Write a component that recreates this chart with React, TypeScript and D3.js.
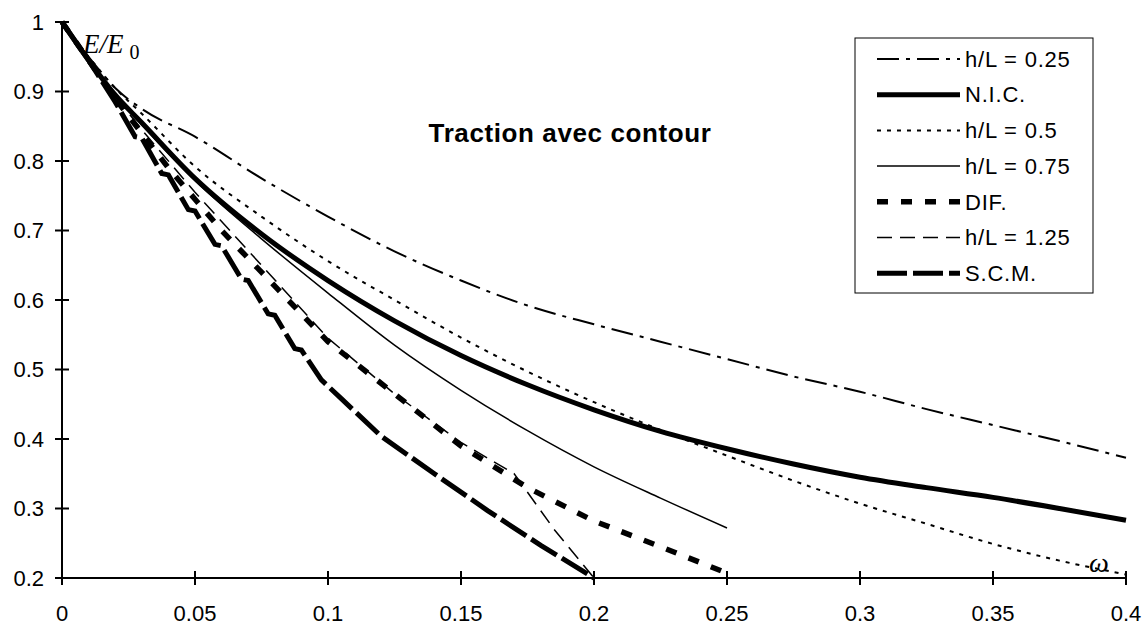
import * as d3 from "d3";

// Courbes E/E0 en fonction de omega — traction avec contour
const xTicks = [0, 0.05, 0.1, 0.15, 0.2, 0.25, 0.3, 0.35, 0.4];
const yTicks = [0.2, 0.3, 0.4, 0.5, 0.6, 0.7, 0.8, 0.9, 1];

const hl025X = [0, 0.01, 0.02, 0.03, 0.05, 0.075, 0.1, 0.125, 0.15, 0.175, 0.2, 0.225, 0.25, 0.275, 0.3, 0.325, 0.35, 0.375, 0.4];
const hl025Y = [1, 0.95, 0.905, 0.875, 0.835, 0.775, 0.72, 0.67, 0.628, 0.592, 0.565, 0.54, 0.515, 0.49, 0.468, 0.443, 0.42, 0.397, 0.373];

const nicX = [0, 0.01, 0.02, 0.03, 0.05, 0.075, 0.1, 0.125, 0.15, 0.175, 0.2, 0.225, 0.25, 0.275, 0.3, 0.325, 0.35, 0.375, 0.4];
const nicY = [1, 0.945, 0.895, 0.855, 0.775, 0.695, 0.628, 0.57, 0.52, 0.478, 0.442, 0.411, 0.386, 0.364, 0.345, 0.33, 0.316, 0.3, 0.283];

const hl05X = [0, 0.01, 0.02, 0.03, 0.05, 0.075, 0.1, 0.125, 0.15, 0.175, 0.2, 0.225, 0.25, 0.275, 0.3, 0.325, 0.35, 0.375, 0.4];
const hl05Y = [1, 0.95, 0.905, 0.868, 0.792, 0.72, 0.656, 0.6, 0.546, 0.497, 0.453, 0.413, 0.376, 0.34, 0.307, 0.278, 0.249, 0.225, 0.205];

const hl075X = [0, 0.01, 0.02, 0.03, 0.05, 0.075, 0.1, 0.125, 0.15, 0.175, 0.2, 0.225, 0.25];
const hl075Y = [1, 0.945, 0.895, 0.852, 0.772, 0.688, 0.61, 0.535, 0.47, 0.412, 0.36, 0.315, 0.272];

const difX = [0, 0.01, 0.02, 0.03, 0.04, 0.05, 0.06, 0.075, 0.1, 0.125, 0.15, 0.175, 0.2, 0.225, 0.25];
const difY = [1, 0.945, 0.89, 0.84, 0.79, 0.745, 0.7, 0.64, 0.54, 0.465, 0.39, 0.33, 0.282, 0.245, 0.207];

const hl125X = [0, 0.01, 0.02, 0.03, 0.05, 0.075, 0.1, 0.125, 0.15, 0.17, 0.185, 0.2];
const hl125Y = [1, 0.945, 0.893, 0.845, 0.755, 0.65, 0.545, 0.465, 0.395, 0.35, 0.27, 0.2];

const scmX = [0, 0.01, 0.02, 0.0275, 0.03, 0.0375, 0.04, 0.0475, 0.05, 0.0575, 0.06, 0.0675, 0.07, 0.0775, 0.08, 0.0875, 0.09, 0.0975, 0.105, 0.12, 0.14, 0.16, 0.18, 0.2];
const scmY = [1, 0.945, 0.885, 0.835, 0.833, 0.782, 0.78, 0.73, 0.728, 0.68, 0.678, 0.63, 0.628, 0.58, 0.578, 0.53, 0.528, 0.485, 0.458, 0.404, 0.35, 0.297, 0.247, 0.2];

const seriesNames = ["h/L = 0.25", "N.I.C.", "h/L = 0.5", "h/L = 0.75", "DIF.", "h/L = 1.25", "S.C.M."];

const W = 1148;
const H = 626;
const FONT = "'Liberation Sans', Arial, sans-serif";
const SERIF = "'Liberation Serif', 'Times New Roman', serif";

const styles = [
  { width: 2, dash: "22,7,4,7", smooth: true },
  { width: 5, dash: "", smooth: true },
  { width: 2, dash: "4,6", smooth: true },
  { width: 1.5, dash: "", smooth: true },
  { width: 5.5, dash: "11,13", smooth: false },
  { width: 1.5, dash: "15,8", smooth: false },
  { width: 5, dash: "30,6", smooth: false },
];

export default function App() {
  const x = d3.scaleLinear().domain([0, 0.4]).range([62, 1126]);
  const y = d3.scaleLinear().domain([0.2, 1]).range([578, 22]);

  const series = [
    d3.zip(hl025X, hl025Y),
    d3.zip(nicX, nicY),
    d3.zip(hl05X, hl05Y),
    d3.zip(hl075X, hl075Y),
    d3.zip(difX, difY),
    d3.zip(hl125X, hl125Y),
    d3.zip(scmX, scmY),
  ];

  const smoothLine = d3
    .line<number[]>()
    .x((d) => x(d[0]))
    .y((d) => y(d[1]))
    .curve(d3.curveMonotoneX);
  const rawLine = d3
    .line<number[]>()
    .x((d) => x(d[0]))
    .y((d) => y(d[1]));

  const legendX = 855;
  const legendY = 38;
  const rowH = 35.7;

  return (
    <svg
      width={W}
      height={H}
      style={{ position: "absolute", left: 0, top: 0, background: "#fff" }}
      fontFamily={FONT}
    >
      <rect x={0} y={0} width={W} height={H} fill="#fff" />

      {/* Curves */}
      {series.map((pts, i) => (
        <path
          key={seriesNames[i]}
          d={(styles[i].smooth ? smoothLine(pts) : rawLine(pts)) ?? ""}
          fill="none"
          stroke="#000"
          strokeWidth={styles[i].width}
          strokeDasharray={styles[i].dash || undefined}
          strokeLinejoin="miter"
        />
      ))}

      {/* Axes */}
      <line x1={x(0)} x2={x(0)} y1={y(1)} y2={y(0.2)} stroke="#000" strokeWidth={2} />
      <line x1={x(0)} x2={x(0.4)} y1={y(0.2)} y2={y(0.2)} stroke="#000" strokeWidth={2} />
      {yTicks.map((t) => (
        <g key={"y" + t}>
          <line x1={x(0) - 7} x2={x(0) + 7} y1={y(t)} y2={y(t)} stroke="#000" strokeWidth={2} />
          <text x={44} y={y(t)} dy="0.35em" textAnchor="end" fontSize={22}>
            {t === 1 ? "1" : t.toFixed(1)}
          </text>
        </g>
      ))}
      {xTicks.map((t) => (
        <g key={"x" + t}>
          <line x1={x(t)} x2={x(t)} y1={y(0.2) - 7} y2={y(0.2) + 7} stroke="#000" strokeWidth={2} />
          <text x={x(t)} y={621} textAnchor="middle" fontSize={22}>
            {d3.format("~g")(t)}
          </text>
        </g>
      ))}

      {/* Axis titles */}
      <text x={83} y={53} fontFamily={SERIF} fontStyle="italic" fontSize={27}>
        E/E
        <tspan fontStyle="normal" fontSize={20} dx={6} dy={6}>0</tspan>
      </text>
      <text x={1089} y={572} fontFamily={SERIF} fontStyle="italic" fontSize={28}>
        ω
      </text>

      {/* Title */}
      <text x={570} y={142} textAnchor="middle" fontSize={26} fontWeight="bold" letterSpacing={0.6}>
        Traction avec contour
      </text>

      {/* Legend */}
      <rect x={legendX} y={legendY} width={238} height={255} fill="#fff" stroke="#000" strokeWidth={1} />
      {seriesNames.map((name, i) => {
        const cy = legendY + 21 + i * rowH;
        return (
          <g key={"lg" + name}>
            <line
              x1={877}
              x2={960}
              y1={cy}
              y2={cy}
              stroke="#000"
              strokeWidth={styles[i].width}
              strokeDasharray={styles[i].dash || undefined}
            />
            <text x={965} y={cy} dy="0.35em" fontSize={22} letterSpacing={0.8}>
              {name}
            </text>
          </g>
        );
      })}
    </svg>
  );
}
